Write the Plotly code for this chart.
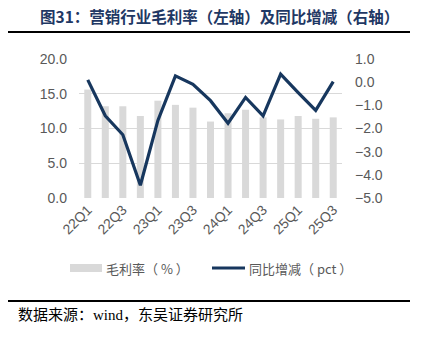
import plotly.graph_objects as go

quarters = ["22Q1", "22Q2", "22Q3", "22Q4", "23Q1", "23Q2", "23Q3", "23Q4",
            "24Q1", "24Q2", "24Q3", "24Q4", "25Q1", "25Q2", "25Q3"]
gross_margin = [15.6, 13.2, 13.2, 11.8, 14.0, 13.4, 13.0, 11.0,
                12.2, 12.7, 11.6, 11.3, 11.8, 11.4, 11.6]
yoy_change = [0.10, -1.45, -2.27, -4.45, -1.65, 0.27, -0.09, -0.80,
              -1.77, -0.66, -1.45, 0.35, -0.45, -1.22, 0.02]
tick_labels = quarters[::2]
bar_name = "毛利率（ % ）"
line_name = "同比增减（ pct ）"

GRAY = "#595959"
NAVY = "#17375E"
BAR_COLOR = "#D9D9D9"
TICKFONT = dict(family="Liberation Sans, Arial", size=14, color=GRAY)

# plot area in pixels
L, R, T, B = 79, 342, 59, 198
PW, PH = R - L, B - T


def px(x):
    return (x - L) / PW


def py(y):
    return (B - y) / PH


fig = go.Figure()
fig.add_trace(go.Bar(x=quarters, y=gross_margin, name=bar_name,
                     marker=dict(color=BAR_COLOR, line=dict(width=0)), width=0.4,
                     yaxis="y", showlegend=False))
fig.add_trace(go.Scatter(x=quarters, y=yoy_change, name=line_name,
                         mode="lines", line=dict(color=NAVY, width=3.2),
                         yaxis="y2", showlegend=False))

fig.update_layout(
    width=424, height=337,
    margin=dict(l=L, r=424 - R, t=T, b=337 - B),
    paper_bgcolor="white", plot_bgcolor="white",
    xaxis=dict(tickmode="array", tickvals=tick_labels, ticktext=tick_labels,
               tickangle=-45, tickfont=TICKFONT, showgrid=False, showline=False,
               ticks="", categoryorder="array", categoryarray=quarters),
    yaxis=dict(range=[0, 20], dtick=5, tickformat=".1f", tickfont=TICKFONT,
               showgrid=True, gridcolor="#D9D9D9", gridwidth=1, zeroline=False,
               showline=False, ticks="", ticklabelstandoff=11),
    yaxis2=dict(range=[-5, 1], dtick=1, tickformat=".1f", tickfont=TICKFONT,
                overlaying="y", side="right", showgrid=False, zeroline=False,
                showline=False, ticks="", ticklabelstandoff=12),
    font=dict(family="Noto Sans CJK SC"),
)

# title
fig.add_annotation(xref="paper", yref="paper", x=px(38), y=py(16),
                   xanchor="left", yanchor="middle", align="left", showarrow=False,
                   text="<b>图31：营销行业毛利率（左轴）及同比增减（右轴）</b>",
                   font=dict(family="Noto Sans CJK SC", size=15.5, color="#1F3864"))
fig.add_shape(type="line", xref="paper", yref="paper",
              x0=px(8), x1=px(410), y0=py(32), y1=py(32),
              line=dict(color="black", width=2))

# legend (drawn manually to match wide swatches)
fig.add_shape(type="rect", xref="paper", yref="paper",
              x0=px(70), x1=px(102), y0=py(272), y1=py(264),
              fillcolor=BAR_COLOR, line=dict(width=0))
fig.add_annotation(xref="paper", yref="paper", x=px(104), y=py(268),
                   xanchor="left", yanchor="middle", align="left", showarrow=False,
                   text=bar_name,
                   font=dict(family="Noto Sans CJK SC", size=13, color=GRAY))
fig.add_shape(type="line", xref="paper", yref="paper",
              x0=px(212), x1=px(245), y0=py(268), y1=py(268),
              line=dict(color=NAVY, width=3.2))
fig.add_annotation(xref="paper", yref="paper", x=px(247), y=py(268),
                   xanchor="left", yanchor="middle", align="left", showarrow=False,
                   text=line_name,
                   font=dict(family="Noto Sans CJK SC", size=13, color=GRAY))

# source
fig.add_shape(type="line", xref="paper", yref="paper",
              x0=px(8), x1=px(410), y0=py(301), y1=py(301),
              line=dict(color="black", width=2))
fig.add_annotation(xref="paper", yref="paper", x=px(16), y=py(315),
                   xanchor="left", yanchor="middle", align="left", showarrow=False,
                   text="数据来源：wind，东吴证券研究所",
                   font=dict(family="Liberation Serif, Noto Sans CJK SC", size=15, color="black"))

fig.write_html("out.html")
